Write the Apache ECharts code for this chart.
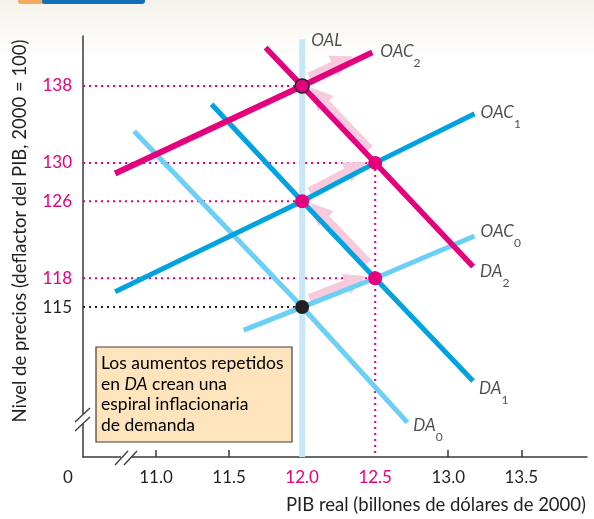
<!DOCTYPE html>
<html>
<head>
<meta charset="utf-8">
<script src="https://cdn.jsdelivr.net/npm/echarts@6/dist/echarts.min.js"></script>
<style>
html, body { margin: 0; padding: 0; background: #fff; }
#main { width: 594px; height: 519px; }
</style>
</head>
<body>
<div id="main"></div>
<script>
// marcas de los ejes
var xTicks = [11, 11.5, 13, 13.5];
var xLabels = [11, 11.5, 12, 12.5, 13, 13.5];
var yLabels = [115, 118, 126, 130, 138];

// curvas (PIB real, nivel de precios)
var OAL = [[12, 99.4], [12, 142.85]];
var OAC0 = [[11.6, 112.6], [12, 115], [12.5, 118], [13.18, 122.4]];
var OAC1 = [[10.72, 116.6], [12, 126], [12.5, 130], [13.18, 135.1]];
var OAC2 = [[10.72, 128.9], [12, 138], [12.48, 141.5]];
var DA0 = [[10.85, 133.3], [12, 115], [12.72, 103]];
var DA1 = [[11.38, 136.1], [12, 126], [12.5, 118], [13.17, 107.3]];
var DA2 = [[11.75, 142], [12, 138], [12.5, 130], [13.17, 119.2]];

// equilibrios
var equilibrios = [[12, 115], [12, 126], [12.5, 118], [12.5, 130], [12, 138]];

// flechas de la espiral
var flechas = [
  [[12.05, 115.9], [12.37, 117.8]],
  [[12.45, 119.6], [12.11, 125.0]],
  [[12.05, 127.0], [12.37, 129.55]],
  [[12.46, 131.4], [12.11, 137.0]],
  [[12.05, 138.95], [12.28, 140.6]]
];

var MAG = '#e5007d';
var AZUL = '#00a3e0';
var CELESTE = '#6ccff6';
var OAL_C = '#c6e7f8';
var ROSA = '#f8cadd';
var TXT = '#231f20';
var FONT = 'Lato, "Noto Sans", sans-serif';

var X_MIN = 10.5, X_MAX = 13.95, Y_MIN = 99.4, Y_MAX = 143.2;

var myChart = echarts.init(document.getElementById('main'));

function curva(data, color, width) {
  return {
    type: 'line', data: data, showSymbol: false, silent: true, z: 4,
    lineStyle: { color: color, width: width, cap: 'butt' }
  };
}

function guia(data, color) {
  return {
    type: 'line', data: data, showSymbol: false, silent: true, z: 2,
    lineStyle: { color: color, width: 2, type: [2, 4], cap: 'butt' }
  };
}

var rich = {
  a: { fontSize: 17, fontStyle: 'italic', color: TXT, fontFamily: FONT, lineHeight: 22, verticalAlign: 'top' },
  s: { fontSize: 12, color: TXT, fontFamily: FONT, lineHeight: 12, padding: [14, 0, 0, 0], verticalAlign: 'top' }
};

function etiqueta(curve, txt, off) {
  return {
    value: curve[curve.length - 1],
    label: { show: true, position: 'right', distance: 0, formatter: txt, offset: off, rich: rich }
  };
}

var series = [
  curva(OAL, OAL_C, 6),
  guia([[X_MIN, 138], [12, 138]], MAG),
  guia([[X_MIN, 130], [12.5, 130]], MAG),
  guia([[X_MIN, 126], [12, 126]], MAG),
  guia([[X_MIN, 118], [12.5, 118]], MAG),
  guia([[X_MIN, 115], [12, 115]], TXT),
  guia([[12.5, 130], [12.5, Y_MIN]], MAG),
  {
    type: 'lines', coordinateSystem: 'cartesian2d', silent: true, z: 3,
    symbol: ['none', 'path://M5,0 L10,9 L0,9 Z'], symbolSize: [0, 22],
    lineStyle: { color: ROSA, width: 9, opacity: 1 },
    data: flechas.map(function (f) { return { coords: f }; })
  },
  curva(DA0, CELESTE, 5),
  curva(OAC0, CELESTE, 5),
  curva(DA1, AZUL, 5),
  curva(OAC1, AZUL, 5),
  curva(DA2, MAG, 5.5),
  curva(OAC2, MAG, 6),
  {
    type: 'scatter', silent: true, z: 6, symbolSize: 14,
    data: equilibrios.map(function (p) {
      if (p[1] === 115) return { value: p, itemStyle: { color: TXT, opacity: 1 } };
      if (p[1] === 138) return { value: p, itemStyle: { color: MAG, borderColor: TXT, borderWidth: 1.5, opacity: 1 } };
      return { value: p, itemStyle: { color: MAG, opacity: 1 } };
    })
  },
  {
    type: 'scatter', silent: true, z: 7, symbolSize: 0,
    data: [
      etiqueta(OAL, '{a|OAL}', [9, 4]),
      etiqueta(OAC2, '{a|OAC}{s|2}', [8, 2]),
      etiqueta(OAC1, '{a|OAC}{s|1}', [6, 1]),
      etiqueta(OAC0, '{a|OAC}{s|0}', [6, -2]),
      etiqueta(DA2, '{a|DA}{s|2}', [7, 7]),
      etiqueta(DA1, '{a|DA}{s|1}', [6, 10]),
      etiqueta(DA0, '{a|DA}{s|0}', [6, 6])
    ]
  }
];

option = {
  animation: false,
  backgroundColor: '#fff',
  grid: { left: 83, right: 7, top: 36, bottom: 62 },
  xAxis: {
    type: 'value', min: X_MIN, max: X_MAX, interval: 0.5,
    splitLine: { show: false },
    axisLine: { lineStyle: { color: '#3a3a3a', width: 1.5 } },
    axisTick: { show: true, inside: true, length: 7, customValues: xTicks, lineStyle: { color: '#3a3a3a', width: 1.5 } },
    axisLabel: {
      customValues: xLabels, margin: 12, fontSize: 17, fontFamily: FONT,
      formatter: function (v) { return v.toFixed(1); },
      color: function (v) { return (v == 12 || v == 12.5) ? MAG : TXT; }
    }
  },
  yAxis: {
    type: 'value', min: Y_MIN, max: Y_MAX,
    splitLine: { show: false },
    axisLine: { show: true, lineStyle: { color: '#3a3a3a', width: 1.5 } },
    axisTick: { show: false },
    axisLabel: {
      customValues: yLabels, margin: 11, fontSize: 17, fontFamily: FONT,
      color: function (v) { return v == 115 ? TXT : MAG; }
    }
  },
  graphic: [
    { type: 'rect', z: -10, shape: { x: 0, y: 0, width: 594, height: 60 },
      style: { fill: new echarts.graphic.LinearGradient(0, 0, 0, 1, [
        { offset: 0, color: '#f4f2ea' }, { offset: 1, color: '#ffffff' }]) } },
    { type: 'rect', z: 10, shape: { x: 18, y: -4, width: 40, height: 8, r: 3 }, style: { fill: '#f6a95d' } },
    { type: 'rect', z: 11, shape: { x: 42, y: -4, width: 103, height: 8, r: 3 }, style: { fill: '#0e72b5' } },
    // recuadro de texto
    { type: 'rect', z: 20, shape: { x: 96, y: 347, width: 196, height: 95 },
      style: { fill: '#fde4bd', stroke: '#4a3b2e', lineWidth: 1.2 } },
    { type: 'text', z: 21, x: 101, y: 353,
      style: {
        text: '{n|Los aumentos repetidos}\n{n|en }{i|DA}{n| crean una}\n{n|espiral inflacionaria}\n{n|de demanda}',
        rich: {
          n: { fontSize: 17.5, fontFamily: FONT, color: TXT, lineHeight: 20.7 },
          i: { fontSize: 17.5, fontFamily: FONT, color: TXT, fontStyle: 'italic', lineHeight: 20.7 }
        }
      } },
    // cortes de los ejes
    { type: 'rect', z: 30, shape: { x: 80, y: 414, width: 6, height: 10 }, style: { fill: '#fff' } },
    { type: 'line', z: 31, shape: { x1: 75, y1: 422, x2: 90, y2: 408 }, style: { stroke: '#3a3a3a', lineWidth: 1.3 } },
    { type: 'line', z: 31, shape: { x1: 75, y1: 431, x2: 90, y2: 417 }, style: { stroke: '#3a3a3a', lineWidth: 1.3 } },
    { type: 'rect', z: 30, shape: { x: 121, y: 454, width: 10, height: 6 }, style: { fill: '#fff' } },
    { type: 'line', z: 31, shape: { x1: 115, y1: 465, x2: 128, y2: 451 }, style: { stroke: '#3a3a3a', lineWidth: 1.3 } },
    { type: 'line', z: 31, shape: { x1: 124, y1: 465, x2: 137, y2: 451 }, style: { stroke: '#3a3a3a', lineWidth: 1.3 } },
    // origen y nombres de los ejes
    { type: 'text', z: 20, x: 68, y: 478,
      style: { text: '0', fontSize: 17, fontFamily: FONT, fill: TXT, align: 'center', verticalAlign: 'middle' } },
    { type: 'text', z: 20, x: 586, y: 505,
      style: { text: 'PIB real (billones de dólares de 2000)', fontSize: 18.5, fontFamily: FONT, fill: TXT, align: 'right', verticalAlign: 'middle' } },
    { type: 'text', z: 20, x: 20, y: 231, rotation: Math.PI / 2,
      style: { text: 'Nivel de precios (deflactor del PIB, 2000 = 100)', fontSize: 18.5, fontFamily: FONT, fill: TXT, align: 'center', verticalAlign: 'middle' } }
  ],
  series: series
};

myChart.setOption(option);
</script>
</body>
</html>
